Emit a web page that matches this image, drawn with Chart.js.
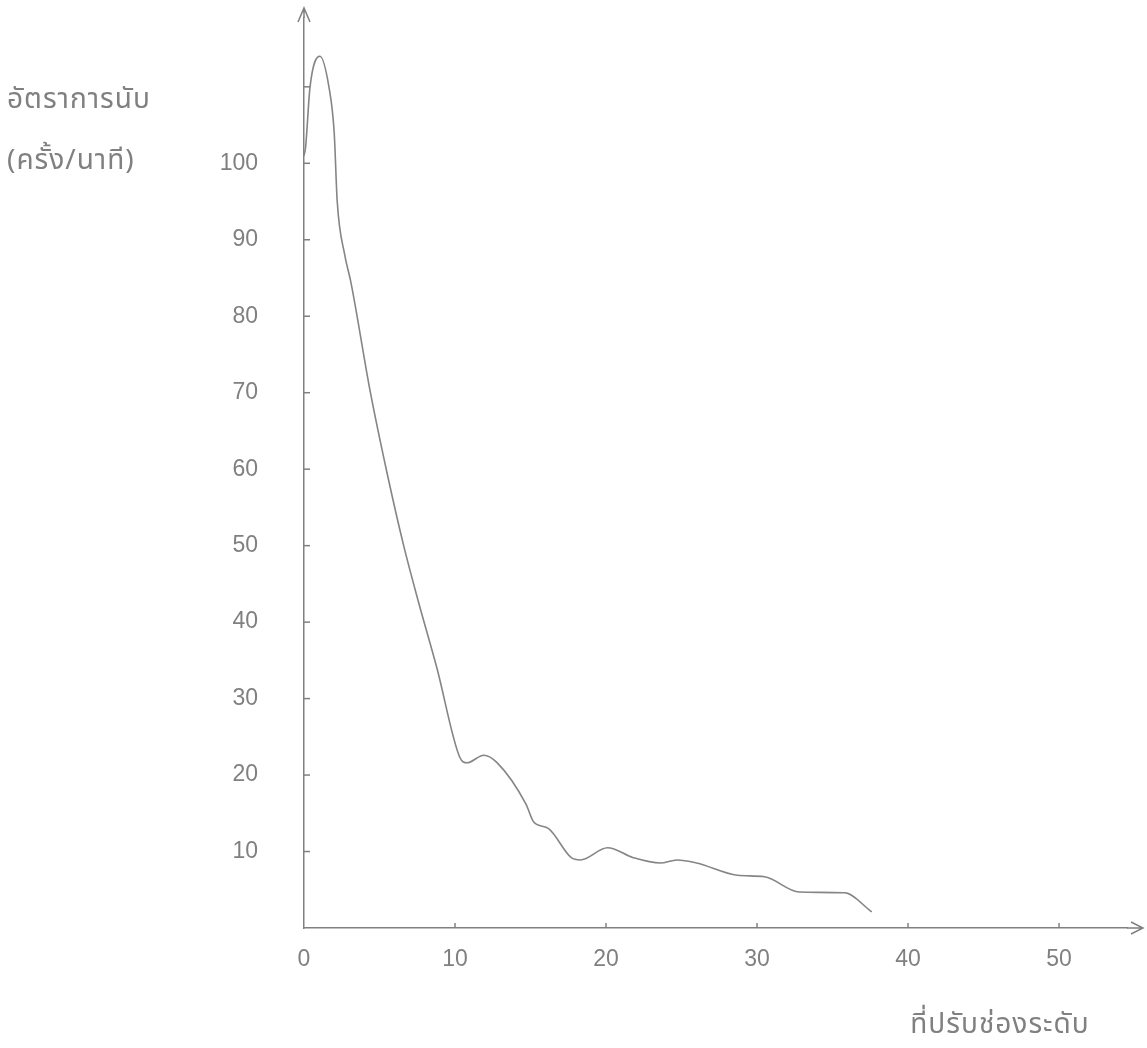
<!DOCTYPE html>
<html>
<head>
<meta charset="utf-8">
<title>อัตราการนับ</title>
<script src="https://cdn.jsdelivr.net/npm/chart.js@4.4.1/dist/chart.umd.min.js"></script>
<style>
  html, body { margin: 0; padding: 0; background: #ffffff; }
  #countChart { display: block; }
</style>
</head>
<body>
<canvas id="countChart" width="1147" height="1048"></canvas>
<script>
// Count rate against discriminator setting
const discriminatorSettings = [0, 0.1, 0.4, 1.05, 1.65, 2.0, 2.2, 2.7, 3.1, 4.4, 5.5, 6.6, 7.6, 8.8,
    10.3, 10.8, 11.9, 12.8, 14.7, 15.2, 16.2, 17.7, 18.3, 20.1, 21.8, 23.6, 24.7, 26, 28.7,
    30.5, 32.8, 35.8, 37.6];
const countRates = [101, 102, 110, 114, 110, 104, 95, 88, 84.5, 70, 59.5, 50, 42.5, 34,
    22.4, 21.6, 22.6, 21.6, 16.2, 13.9, 13, 9.2, 8.9, 10.5, 9.2, 8.5, 8.9, 8.5, 6.9,
    6.7, 4.7, 4.6, 2.1];

const xTickValues = [0, 10, 20, 30, 40, 50];
const yTickValues = [10, 20, 30, 40, 50, 60, 70, 80, 90, 100, 110];
const yLabelled = [10, 20, 30, 40, 50, 60, 70, 80, 90, 100];

const yTitleLines = ['อัตราการนับ', '(ครั้ง/นาที)'];
const xTitle = 'ที่ปรับช่องระดับ';

const inkColor = '#808080';
const numberFont = { family: '"Liberation Sans", sans-serif', size: 23 };
const thaiFont = '28px "Noto Sans Thai", "Loma", "Garuda", "Norasi", "DejaVu Sans", sans-serif';

const Y_AXIS_WIDTH = 100;
const X_AXIS_HEIGHT = 60;

// keep tick label padding from pushing the plot area around
function fixAxisBox(scale, size) {
    if (scale.isHorizontal()) scale.height = size;
    else scale.width = size;
    scale.paddingTop = 0;
    scale.paddingBottom = 0;
    scale.paddingLeft = 0;
    scale.paddingRight = 0;
}

// hand-drawn style ticks, arrowheads and axis titles
const axisDecor = {
    id: 'axisDecor',
    afterDraw(chart) {
        const { ctx, chartArea, scales } = chart;
        const x0 = chartArea.left;
        const y0 = chartArea.bottom;
        ctx.save();
        ctx.strokeStyle = inkColor;
        ctx.lineWidth = 1.5;

        // short marks on the inside of the y axis
        yTickValues.forEach(v => {
            const py = scales.y.getPixelForValue(v);
            ctx.beginPath();
            ctx.moveTo(x0, py);
            ctx.lineTo(x0 + 6, py);
            ctx.stroke();
        });
        // small upright marks on the x axis
        xTickValues.slice(1).forEach(v => {
            const px = scales.x.getPixelForValue(v);
            ctx.beginPath();
            ctx.moveTo(px, y0);
            ctx.lineTo(px, y0 - 5);
            ctx.stroke();
        });

        // axis extensions with open arrowheads
        ctx.beginPath();
        ctx.moveTo(x0, chartArea.top);
        ctx.lineTo(x0, 8);
        ctx.moveTo(x0 - 6, 22);
        ctx.lineTo(x0, 8);
        ctx.lineTo(x0 + 6, 22);
        ctx.stroke();

        ctx.beginPath();
        ctx.moveTo(chartArea.right, y0);
        ctx.lineTo(1143, y0);
        ctx.moveTo(1131, y0 - 6);
        ctx.lineTo(1143, y0);
        ctx.lineTo(1131, y0 + 6);
        ctx.stroke();

        // axis titles
        ctx.fillStyle = inkColor;
        ctx.font = thaiFont;
        ctx.letterSpacing = '1px';
        ctx.textBaseline = 'middle';
        ctx.textAlign = 'left';
        ctx.fillText(yTitleLines[0], 7, 102);
        ctx.fillText(yTitleLines[1], 7, 163);
        ctx.textAlign = 'center';
        ctx.fillText(xTitle, 1000, 1027);
        ctx.restore();
    }
};

new Chart(document.getElementById('countChart'), {
    type: 'line',
    data: {
        datasets: [{
            data: discriminatorSettings.map((x, i) => ({ x: x, y: countRates[i] })),
            borderColor: '#858585',
            borderWidth: 1.6,
            pointRadius: 0,
            fill: false,
            cubicInterpolationMode: 'monotone'
        }]
    },
    options: {
        responsive: false,
        animation: false,
        events: [],
        layout: {
            padding: {
                left: 304 - Y_AXIS_WIDTH,
                top: 18,
                right: 20,
                bottom: 120 - X_AXIS_HEIGHT
            }
        },
        plugins: {
            legend: { display: false },
            tooltip: { enabled: false }
        },
        scales: {
            x: {
                type: 'linear',
                min: 0,
                max: 54.5,
                afterBuildTicks: scale => {
                    scale.ticks = xTickValues.map(v => ({ value: v }));
                },
                afterFit: scale => fixAxisBox(scale, X_AXIS_HEIGHT),
                grid: { display: false, drawTicks: false },
                border: { display: true, color: inkColor, width: 1.5 },
                ticks: {
                    color: inkColor,
                    font: numberFont,
                    padding: 18,
                    maxRotation: 0
                }
            },
            y: {
                type: 'linear',
                min: 0,
                max: 119,
                afterBuildTicks: scale => {
                    scale.ticks = yLabelled.map(v => ({ value: v }));
                },
                afterFit: scale => fixAxisBox(scale, Y_AXIS_WIDTH),
                grid: { display: false, drawTicks: false },
                border: { display: true, color: inkColor, width: 1.5 },
                ticks: {
                    color: inkColor,
                    font: numberFont,
                    padding: 46
                }
            }
        }
    },
    plugins: [axisDecor]
});
</script>
</body>
</html>
